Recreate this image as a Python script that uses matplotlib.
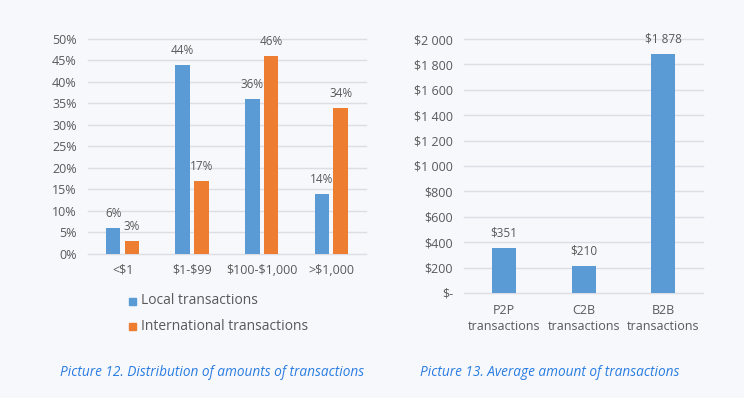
import numpy as np
import matplotlib.pyplot as plt
from matplotlib.patches import Rectangle

# data
ranges = ['<$1', '$1-$99', '$100-$1,000', '>$1,000']
local_pct = [6, 44, 36, 14]
intl_pct = [3, 17, 46, 34]

tx_types = ['P2P\ntransactions', 'C2B\ntransactions', 'B2B\ntransactions']
avg_amount = [351, 210, 1878]

bg = '#f7f8fc'
blue = '#5b9bd5'
orange = '#ed7d31'
grey = '#595959'
grid_c = '#dcdee3'
cap_c = '#2a7de1'

plt.rcParams['font.family'] = ['Open Sans', 'DejaVu Sans']
plt.rcParams['text.parse_math'] = False

fig = plt.figure(figsize=(7.44, 3.98), dpi=100, facecolor=bg)

# left chart
ax1 = fig.add_axes([0.118, 0.362, 0.374, 0.540], facecolor=bg)
x = np.arange(len(ranges))
w = 0.21
b1 = ax1.bar(x - 0.135, local_pct, w, color=blue, zorder=3)
b2 = ax1.bar(x + 0.135, intl_pct, w, color=orange, zorder=3)
for bars in (b1, b2):
    for r in bars:
        ax1.text(r.get_x() + r.get_width() / 2, r.get_height() + 1.8,
                 f'{int(r.get_height())}%', ha='center', va='bottom',
                 fontsize=8.5, color=grey)
ax1.set_xlim(-0.5, len(ranges) - 0.5)
ax1.set_ylim(0, 50)
ax1.set_yticks(range(0, 51, 5))
ax1.set_yticklabels([f'{v}%' for v in range(0, 51, 5)])
ax1.set_xticks(x)
ax1.set_xticklabels(ranges)
ax1.grid(axis='y', color=grid_c, linewidth=1, zorder=0, clip_on=False)
for s in ax1.spines.values():
    s.set_visible(False)
ax1.tick_params(length=0, labelsize=9, colors=grey, pad=8)
ax1.tick_params(axis='x', pad=7)

# legend
fig.patches.append(Rectangle((129 / 744, 1 - 305 / 398), 7 / 744, 7 / 398,
                             transform=fig.transFigure, color=blue, figure=fig))
fig.patches.append(Rectangle((129 / 744, 1 - 330 / 398), 7 / 744, 7 / 398,
                             transform=fig.transFigure, color=orange, figure=fig))
fig.text(141 / 744, 1 - 301 / 398, 'Local transactions', fontsize=10,
         color=grey, va='center')
fig.text(141 / 744, 1 - 326 / 398, 'International transactions', fontsize=10,
         color=grey, va='center')

# right chart
ax2 = fig.add_axes([0.624, 0.264, 0.321, 0.638], facecolor=bg)
x2 = np.arange(len(tx_types))
b3 = ax2.bar(x2, avg_amount, 0.3, color=blue, zorder=3)
for r in b3:
    ax2.text(r.get_x() + r.get_width() / 2, r.get_height() + 70,
             f'${int(r.get_height()):,}'.replace(',', ' '), ha='center',
             va='bottom', fontsize=8.5, color=grey)
ax2.set_xlim(-0.5, len(tx_types) - 0.5)
ax2.set_ylim(0, 2000)
yt = list(range(0, 2001, 200))
ax2.set_yticks(yt)
ax2.set_yticklabels(['$-'] + [f'${v:,}'.replace(',', ' ') for v in yt[1:]])
ax2.set_xticks(x2)
ax2.set_xticklabels(tx_types, linespacing=1.25)
ax2.grid(axis='y', color=grid_c, linewidth=1, zorder=0, clip_on=False)
for s in ax2.spines.values():
    s.set_visible(False)
ax2.tick_params(length=0, labelsize=9, colors=grey, pad=8)
ax2.tick_params(axis='x', pad=8)

# captions
fig.text(212 / 744, 1 - 373 / 398,
         'Picture 12. Distribution of amounts of transactions',
         fontsize=9.8, style='italic', color=cap_c, ha='center', va='center')
fig.text(550 / 744, 1 - 373 / 398,
         'Picture 13. Average amount of transactions',
         fontsize=9.8, style='italic', color=cap_c, ha='center', va='center')

fig.savefig('out.png', dpi=100, facecolor=bg)
